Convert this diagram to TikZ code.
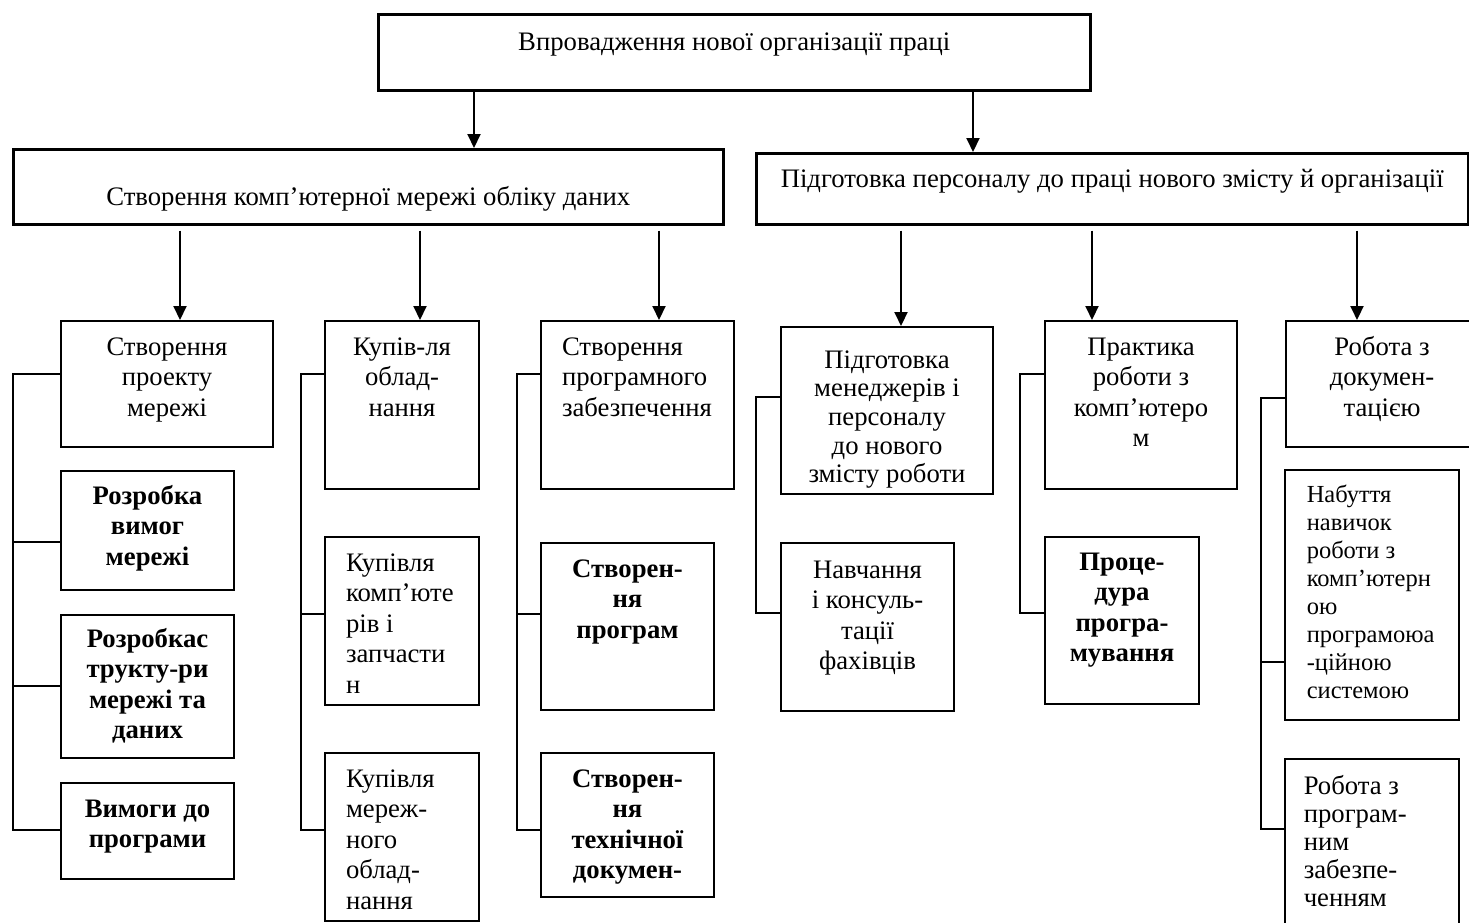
\documentclass[tikz,border=0pt]{standalone}
\usepackage{fontspec}
\setmainfont{Liberation Serif}
\usetikzlibrary{arrows.meta}

\begin{document}
\begin{tikzpicture}[x=1pt,y=-1pt,
    box/.style={draw,line width=2pt,anchor=north west,inner sep=0pt},
    arr/.style={-{Triangle[length=14pt,width=13pt]},line width=2pt}]
  \tikzstyle{link}=[line width=2pt,line cap=rect]
  \tikzstyle{txt}=[anchor=base,inner sep=0pt,font=\fontsize{26.7}{30.5}\selectfont]
  \tikzstyle{small}=[txt,font=\fontsize{24.5}{28}\selectfont]

  \useasboundingbox (0,0) rectangle (1469,922);
  \clip (0,0) rectangle (1469,922);

  % top levels
  \node[box,line width=2.5pt,minimum width=712pt,minimum height=76pt,
    label={[txt,yshift=-37pt]north:{Впровадження нової організації праці}}] (top) at (377,13) {};
  \node[box,line width=2.5pt,minimum width=710pt,minimum height=75pt,
    label={[txt,yshift=-57pt]north:{Створення комп’ютерної мережі обліку даних}}] (net) at (12,148) {};
  \node[box,line width=2.5pt,minimum width=712pt,minimum height=71pt,
    label={[txt,yshift=-35pt]north:{Підготовка персоналу до праці нового змісту й організації}}] (staff) at (755,152) {};

  % stages
  \node[box,minimum width=212pt,minimum height=126pt,
    label={[txt,yshift=-35pt]north:{\parbox[t]{200pt}{\centering Створення\\проекту\\мережі}}}] (pA) at (60,320) {};
  \node[box,minimum width=154pt,minimum height=168pt,
    label={[txt,yshift=-35pt]north:{\parbox[t]{150pt}{\centering Купів-ля\\облад-\\нання}}}] (pB) at (324,320) {};
  \node[box,minimum width=193pt,minimum height=168pt,
    label={[txt,yshift=-35pt]north:{\parbox[t]{151pt}{\raggedright Створення\\програмного\\забезпечення}}}] (pC) at (540,320) {};
  \node[box,minimum width=212pt,minimum height=167pt,
    label={[txt,yshift=-42pt,font=\fontsize{26.7}{28.7}\selectfont]north:{\parbox[t]{200pt}{\centering Підготовка\\менеджерів і\\персоналу\\до нового\\змісту роботи}}}] (pD) at (780,326) {};
  \node[box,minimum width=192pt,minimum height=168pt,
    label={[txt,yshift=-35pt]north:{\parbox[t]{180pt}{\centering Практика\\роботи з\\комп’ютеро\\м}}}] (pE) at (1044,320) {};
  \node[box,minimum width=192pt,minimum height=126pt,
    label={[txt,yshift=-35pt]north:{\parbox[t]{180pt}{\centering Робота з\\докумен-\\тацією}}}] (pF) at (1285,320) {};

  % tasks
  \node[box,minimum width=173pt,minimum height=119pt,
    label={[txt,yshift=-34pt]north:{\parbox[t]{165pt}{\centering\bfseries Розробка\\вимог\\мережі}}}] (cA1) at (60,470) {};
  \node[box,minimum width=173pt,minimum height=143pt,
    label={[txt,yshift=-33pt]north:{\parbox[t]{165pt}{\centering\bfseries Розробкас\\трукту-ри\\мережі та\\даних}}}] (cA2) at (60,614) {};
  \node[box,minimum width=173pt,minimum height=96pt,
    label={[txt,yshift=-35pt]north:{\parbox[t]{165pt}{\centering\bfseries Вимоги до\\програми}}}] (cA3) at (60,782) {};
  \node[box,minimum width=154pt,minimum height=168pt,
    label={[txt,yshift=-35pt]north:{\parbox[t]{112pt}{\raggedright Купівля\\комп’юте\\рів і\\запчасти\\н}}}] (cB1) at (324,536) {};
  \node[box,minimum width=154pt,minimum height=168pt,
    label={[txt,yshift=-35pt]north:{\parbox[t]{112pt}{\raggedright Купівля\\мереж-\\ного\\облад-\\нання}}}] (cB2) at (324,752) {};
  \node[box,minimum width=173pt,minimum height=167pt,
    label={[txt,yshift=-35pt]north:{\parbox[t]{165pt}{\centering\bfseries Створен-\\ня\\програм}}}] (cC1) at (540,542) {};
  \node[box,minimum width=173pt,minimum height=144pt,
    label={[txt,yshift=-35pt]north:{\parbox[t]{165pt}{\centering\bfseries Створен-\\ня\\технічної\\докумен-}}}] (cC2) at (540,752) {};
  \node[box,minimum width=173pt,minimum height=168pt,
    label={[txt,yshift=-36pt]north:{\parbox[t]{165pt}{\centering Навчання\\і консуль-\\тації\\фахівців}}}] (cD1) at (780,542) {};
  \node[box,minimum width=154pt,minimum height=167pt,
    label={[txt,yshift=-34pt]north:{\parbox[t]{146pt}{\centering\bfseries Проце-\\дура\\програ-\\мування}}}] (cE1) at (1044,536) {};
  \node[box,line width=1.5pt,minimum width=174pt,minimum height=250pt,
    label={[small,yshift=-33pt]north:{\parbox[t]{130pt}{\raggedright Набуття\\навичок\\роботи з\\комп’ютерн\\ою\\програмоюа\\-ційною\\системою}}}] (cF1) at (1284,469) {};
  \node[box,line width=1.5pt,minimum width=174pt,minimum height=200pt,
    label={[txt,yshift=-36pt,font=\fontsize{26.7}{28}\selectfont]north:{\parbox[t]{136pt}{\raggedright Робота з\\програм-\\ним\\забезпе-\\ченням}}}] (cF2) at (1284,758) {};

  % arrows
  \draw[arr] ([xshift=97pt]top.south west) -- ([xshift=97pt]top.south west |- net.north);
  \draw[arr] ([xshift=596pt]top.south west) -- ([xshift=596pt]top.south west |- staff.north);
  \draw[arr] ([xshift=120pt,yshift=-5pt]pA.north west |- net.south) -- ([xshift=120pt]pA.north west);
  \draw[arr] ([xshift=96pt,yshift=-5pt]pB.north west |- net.south) -- ([xshift=96pt]pB.north west);
  \draw[arr] ([xshift=119pt,yshift=-5pt]pC.north west |- net.south) -- ([xshift=119pt]pC.north west);
  \draw[arr] ([xshift=121pt,yshift=-5pt]pD.north west |- staff.south) -- ([xshift=121pt]pD.north west);
  \draw[arr] ([xshift=48pt,yshift=-5pt]pE.north west |- staff.south) -- ([xshift=48pt]pE.north west);
  \draw[arr] ([xshift=72pt,yshift=-5pt]pF.north west |- staff.south) -- ([xshift=72pt]pF.north west);

  % brackets
  \coordinate (sA) at (13,830);
  \coordinate (sB) at (301,830);
  \coordinate (sC) at (517,830);
  \coordinate (sD) at (756,613);
  \coordinate (sE) at (1020,613);
  \coordinate (sF) at (1261,829);

  \draw[link] ([yshift=-54pt]pA.north west) -| (sA) -- (sA -| cA3.west);
  \draw[link] ([yshift=-72pt]cA1.north west) -- ([yshift=-72pt]cA1.north west -| sA);
  \draw[link] ([yshift=-72pt]cA2.north west) -- ([yshift=-72pt]cA2.north west -| sA);

  \draw[link] ([yshift=-54pt]pB.north west) -| (sB) -- (sB -| cB2.west);
  \draw[link] ([yshift=-78pt]cB1.north west) -- ([yshift=-78pt]cB1.north west -| sB);

  \draw[link] ([yshift=-54pt]pC.north west) -| (sC) -- (sC -| cC2.west);
  \draw[link] ([yshift=-72pt]cC1.north west) -- ([yshift=-72pt]cC1.north west -| sC);

  \draw[link] ([yshift=-71pt]pD.north west) -| (sD) -- (sD -| cD1.west);

  \draw[link] ([yshift=-54pt]pE.north west) -| (sE) -- (sE -| cE1.west);

  \draw[link] ([yshift=-78pt]pF.north west) -| (sF) -- (sF -| cF2.west);
  \draw[link] ([yshift=-193pt]cF1.north west) -- ([yshift=-193pt]cF1.north west -| sF);
\end{tikzpicture}
\end{document}
